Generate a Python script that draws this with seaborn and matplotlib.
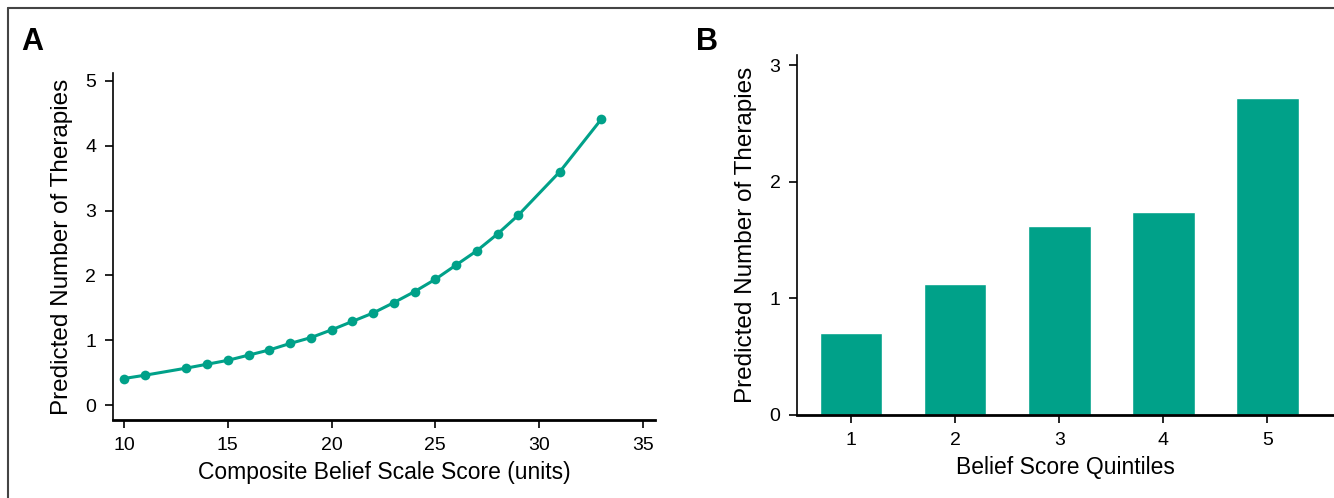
import seaborn as sns
import pandas as pd
from matplotlib import pyplot as plt
from matplotlib.lines import Line2D

# panel A: predicted therapies by composite belief score
belief_score = [10, 11, 13, 14, 15, 16, 17, 18, 19, 20, 21, 22, 23, 24, 25, 26, 27, 28, 29, 31, 33]
predicted_a = [0.41, 0.46, 0.57, 0.63, 0.69, 0.77, 0.85, 0.95, 1.04, 1.16, 1.29, 1.42, 1.58,
               1.75, 1.94, 2.16, 2.38, 2.64, 2.93, 3.60, 4.41]

# panel B: predicted therapies by quintile
quintiles = ['1', '2', '3', '4', '5']
predicted_b = [0.70, 1.12, 1.62, 1.74, 2.72]

teal = '#00A189'
sns.set_style('ticks')
plt.rcParams['font.family'] = ['Liberation Sans', 'DejaVu Sans']
plt.rcParams['text.color'] = 'black'
plt.rcParams['axes.labelcolor'] = 'black'
plt.rcParams['axes.edgecolor'] = 'black'
plt.rcParams['xtick.color'] = 'black'
plt.rcParams['ytick.color'] = 'black'

fig = plt.figure(figsize=(13.34, 4.98), dpi=100)
ax1 = fig.add_axes([0.0847, 0.1566, 0.4063, 0.6968])
ax2 = fig.add_axes([0.5975, 0.1667, 0.4025, 0.7229])

dfa = pd.DataFrame({'score': belief_score, 'pred': predicted_a})
sns.lineplot(data=dfa, x='score', y='pred', ax=ax1, color=teal, linewidth=2.2,
             marker='o', markersize=7, markeredgewidth=0)
ax1.set_xlim(9.47, 35.58)
ax1.set_ylim(-0.23, 5.12)
ax1.set_xticks([10, 15, 20, 25, 30, 35])
ax1.set_yticks([0, 1, 2, 3, 4, 5])
ax1.set_xlabel('Composite Belief Scale Score (units)', fontsize=16.5, labelpad=5)
ax1.set_ylabel('Predicted Number of Therapies', fontsize=17.5, labelpad=9)

dfb = pd.DataFrame({'q': quintiles, 'pred': predicted_b})
sns.barplot(data=dfb, x='q', y='pred', ax=ax2, color=teal, width=0.6, saturation=1)
ax2.set_xlim(-0.52, 4.64)
ax2.set_ylim(0, 3.086)
ax2.set_yticks([0, 1, 2, 3])
ax2.set_xlabel('Belief Score Quintiles', fontsize=16.5, labelpad=5)
ax2.set_ylabel('Predicted Number of Therapies', fontsize=17.5, labelpad=9)

for ax in (ax1, ax2):
    sns.despine(ax=ax)
    ax.spines['bottom'].set_linewidth(2)
    ax.spines['left'].set_linewidth(1.2)
    ax.tick_params(labelsize=14, length=6, width=1.2, pad=6)

fig.text(0.016, 0.9, 'A', fontsize=22, fontweight='bold')
fig.text(0.522, 0.9, 'B', fontsize=22, fontweight='bold')

# frame lines at top and left
fig.add_artist(Line2D([8 / 1334, 1], [1 - 8 / 498, 1 - 8 / 498], color='#444444', lw=1.5))
fig.add_artist(Line2D([8 / 1334, 8 / 1334], [0, 1 - 8 / 498], color='#444444', lw=1.5))

fig.savefig('out.png', dpi=100)
